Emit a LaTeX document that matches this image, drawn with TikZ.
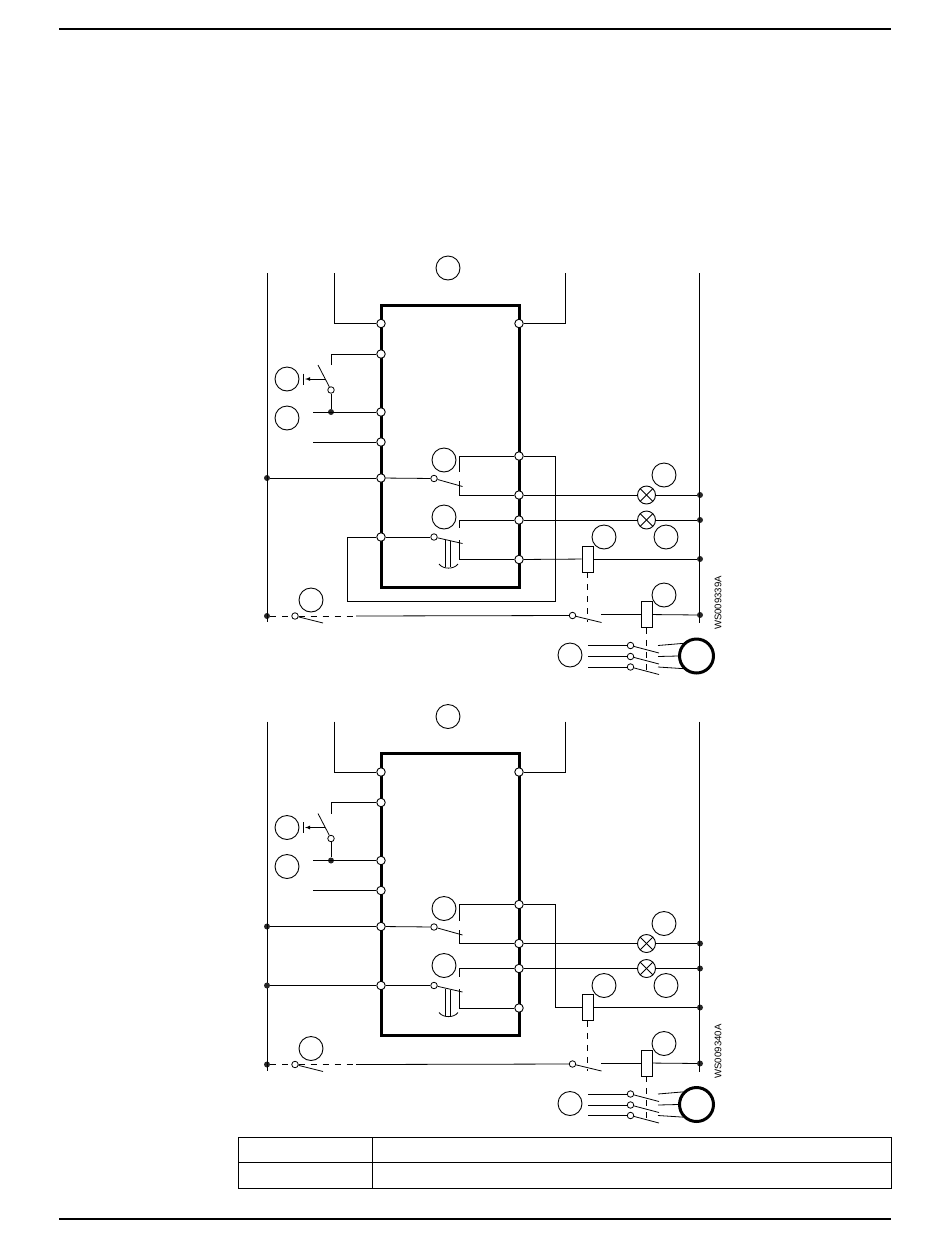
\documentclass[tikz,border=0pt]{standalone}
\usepackage{fontspec}
\setsansfont{Liberation Sans}
\tikzstyle{wire}=[line width=0.8pt]
\tikzstyle{rule}=[line width=1.6pt]
\tikzstyle{term}=[circle,draw,fill=white,line width=0.9pt,inner sep=0pt,minimum size=8.5pt]
\tikzstyle{contact}=[circle,draw,fill=white,line width=0.8pt,inner sep=0pt,minimum size=6.5pt]
\tikzstyle{dot}=[circle,fill=black!85,inner sep=0pt,minimum size=6pt]
\tikzstyle{tag}=[circle,draw,line width=0.9pt,inner sep=0pt,minimum size=24pt]
\tikzstyle{lamp}=[circle,draw,line width=0.9pt,inner sep=0pt,minimum size=18pt,
        path picture={
                \draw[line width=0.9pt] (path picture bounding box.north west) -- (path picture bounding box.south east);
                \draw[line width=0.9pt] (path picture bounding box.north east) -- (path picture bounding box.south west);
        }]
\tikzstyle{coil}=[draw,fill=white,line width=0.8pt,inner sep=0pt,minimum width=11pt,minimum height=26pt]
\tikzstyle{motor}=[circle,draw,line width=3pt,inner sep=0pt,minimum size=34pt]
\tikzstyle{dashwire}=[line width=0.8pt,dash pattern=on 6pt off 6pt]
\newcommand{\drawpanel}[3]{
        \begin{scope}[shift={(0,#1)},name prefix=#2-]
                % relay body and its terminals
                \draw[line width=3pt] (381,305) rectangle (519,587);
                \foreach \name/\ypos in {tA/323.5,tB/354,tC/412,tD/442,tE/478,tF/537} {
                        \node[term] (\name) at (381,\ypos) {};
                }
                \foreach \name/\ypos in {rA/323.5,rB/456,rC/495,rD/520,rE/559.5} {
                        \node[term] (\name) at (519,\ypos) {};
                }

                % supply rails
                \node[dot] (railE) at (267,478) {};
                \node[dot] (railS) at (267,616) {};
                \node[dot] (railC) at (700,495) {};
                \node[dot] (railD) at (700,520) {};
                \node[dot] (railR) at (700,559) {};
                \node[dot] (railK) at (700,615) {};
                \coordinate (leftTop) at (267,273);
                \coordinate (leftEnd) at (267,622);
                \coordinate (rightTop) at (699.5,273);
                \coordinate (rightEnd) at (699.5,623);
                \draw[wire] (leftTop) -- (leftEnd);
                \draw[wire] (rightTop) -- (rightEnd);
                \coordinate (inA) at (334,273);
                \coordinate (inB) at (565,273);
                \draw[wire] (inA) |- (tA);
                \draw[wire] (inB) |- (rA);

                % selector switch
                \node[contact] (selC) at (331,390) {};
                \node[dot] (selD) at (331,412) {};
                \coordinate (selT) at (331,365);
                \coordinate (selB) at (318,365);
                \coordinate (feedC) at (313,412);
                \coordinate (feedD) at (313,442);
                \coordinate (knobA) at (325,379);
                \coordinate (knobB) at (305,379);
                \draw[wire] (selT) |- (tB);
                \draw[wire] (selB) -- (selC);
                \draw[wire] (selC) -- (selD);
                \draw[wire] (feedC) -- (tC);
                \draw[wire] (feedD) -- (tD);
                \draw[wire,-latex] (knobA) -- (knobB);
                \draw[wire] (303.5,373.5) -- (303.5,384.5);

                % contact of row E
                \node[contact] (conE) at (434,478.5) {};
                \coordinate (conEb) at (462.5,486.5);
                \coordinate (conEu) at (459.5,472);
                \coordinate (conEl) at (459.5,481);
                \draw[wire] (rB) -| (conEu);
                \draw[wire] (rC) -| (conEl);
                \draw[wire] (tE) -- (conE);
                \draw[wire] (conE) -- (conEb);

                % contact of row F with its delay
                \node[contact] (conF) at (434,537) {};
                \coordinate (conFb) at (462.5,543.5);
                \coordinate (conFu) at (459.5,528);
                \coordinate (conFl) at (459.5,540);
                \draw[wire] (rD) -| (conFu);
                \draw[wire] (rE) -| (conFl);
                \draw[wire] (tF) -- (conF);
                \draw[wire] (conF) -- (conFb);
                \draw[wire] (445.5,540) -- (445.5,567);
                \draw[wire] (450,541) -- (450,567);
                \draw[wire] (439,564) .. controls (443,569.5) and (454,569.5) .. (458,564);

                % lamps and coils
                \node[lamp] (lampC) at (646.5,495) {};
                \node[lamp] (lampD) at (646.5,520) {};
                \node[coil] (coilR) at (587.5,559) {};
                \node[coil] (coilK) at (646.5,614.5) {};
                \draw[wire] (rC) -- (lampC);
                \draw[wire] (lampC) -- (railC);
                \draw[wire] (rD) -- (lampD);
                \draw[wire] (lampD) -- (railD);
                \draw[wire] (coilR) -- (railR);
                \draw[wire] (coilK) -- (railK);

                % control line along the bottom
                \node[contact] (conS) at (295,616) {};
                \node[contact] (conK) at (572.5,615.5) {};
                \coordinate (conSb) at (323,623);
                \coordinate (conKb) at (601.5,622.5);
                \coordinate (conKo) at (601,614.5);
                \coordinate (dashEnd) at (356,616);
                \coordinate (dashR) at (587.5,622);
                \draw[dashwire] (railS) -- (conS);
                \draw[dashwire] (conS) -- (dashEnd);
                \draw[wire] (dashEnd) -- (conK);
                \draw[wire] (conS) -- (conSb);
                \draw[wire] (conK) -- (conKb);
                \draw[wire] (conKo) -- (coilK);
                \draw[dashwire] (coilR) -- (dashR);

                % motor contactor
                \node[motor] (mot) at (696.5,656) {};
                \foreach \name/\ypos/\ang in {a/645.5/137,b/656.5/180,c/667/223} {
                        \node[contact] (pole\name) at (630.5,\ypos) {};
                        \coordinate (in\name) at (588,\ypos);
                        \coordinate (out\name) at (658,\ypos);
                        \coordinate (blade\name) at (659,\ypos+7.5);
                        \draw[wire] (in\name) -- (pole\name);
                        \draw[wire] (pole\name) -- (blade\name);
                        \draw[wire] (out\name) -- (mot.\ang);
                }
                \coordinate (dashK) at (646.5,673);
                \draw[dashwire] (coilK) -- (dashK);

                % empty position circles
                \node[tag] (tagTop) at (448,268) {};
                \node[tag] (tagSel) at (287,379) {};
                \node[tag] (tagFeed) at (287,418) {};
                \node[tag] (tagE) at (444,460) {};
                \node[tag] (tagF) at (444,517) {};
                \node[tag] (tagS) at (311,600) {};
                \node[tag] (tagC) at (664,475) {};
                \node[tag] (tagD) at (666,537) {};
                \node[tag] (tagR) at (604,537) {};
                \node[tag] (tagK) at (664,595) {};
                \node[tag] (tagM) at (570,655) {};

                \node[rotate=90,font=\sffamily\fontsize{9.6}{10}\selectfont] (drawing) at (718,603) {#3};
        \end{scope}
}

\begin{document}
\begin{tikzpicture}[x=1pt,y=-1pt]
        \useasboundingbox (0,0) rectangle (950,1248);

        \draw[rule] (59,29) -- (891,29);
        \draw[rule] (59,1219) -- (891,1219);

        \drawpanel{0}{up}{WS009339A}
        \drawpanel{448.5}{low}{WS009340A}

        % the two panels differ only here
        \coordinate (loopA) at (347,537);
        \coordinate (loopB) at (347,601);
        \coordinate (loopC) at (555,601);
        \draw[wire] (up-tF) -- (loopA) -- (loopB) -- (loopC) |- (up-rB);
        \draw[wire] (up-railE) -- (up-tE);
        \draw[wire] (up-rE) -- (up-coilR);

        \node[dot] (railF) at (267,985.5) {};
        \draw[wire] (low-railE) -- (low-tE);
        \draw[wire] (railF) -- (low-tF);
        \coordinate (loopD) at (555,1007.5);
        \draw[wire] (low-rB) -| (loopD) -- (low-coilR);

        % table
        \draw[wire] (238,1137) rectangle (891,1188);
        \draw[wire] (238,1162) -- (891,1162);
        \draw[wire] (372,1137) -- (372,1188);
\end{tikzpicture}
\end{document}
